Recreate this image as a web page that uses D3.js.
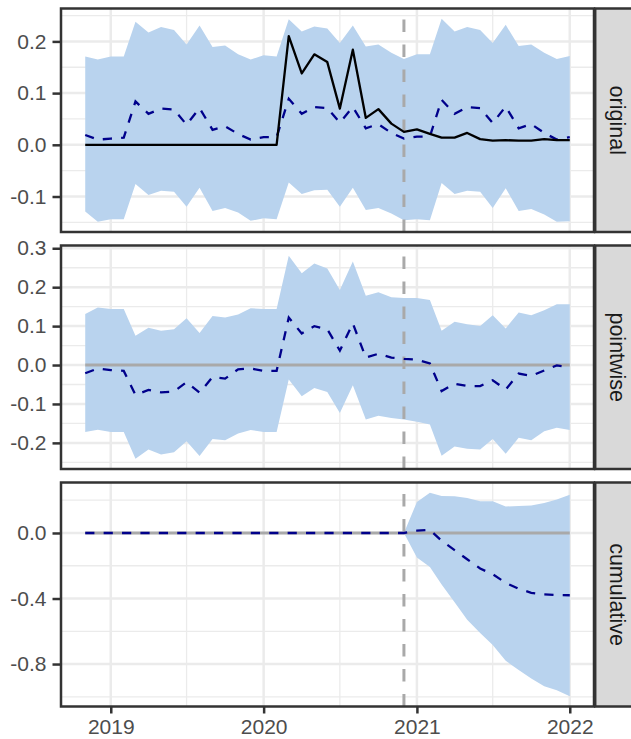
<!DOCTYPE html>
<html><head><meta charset="utf-8">
<script src="https://cdn.jsdelivr.net/npm/d3@7"></script>
<style>body{margin:0;background:#fff} svg{display:block}</style>
</head><body>
<script>
// ---------------- DATA ----------------
const months = ["2018-11","2018-12",
 "2019-01","2019-02","2019-03","2019-04","2019-05","2019-06","2019-07","2019-08","2019-09","2019-10","2019-11","2019-12",
 "2020-01","2020-02","2020-03","2020-04","2020-05","2020-06","2020-07","2020-08","2020-09","2020-10","2020-11","2020-12",
 "2021-01","2021-02","2021-03","2021-04","2021-05","2021-06","2021-07","2021-08","2021-09","2021-10","2021-11","2021-12",
 "2022-01"];

const observed = [0,0,0,0,0,0,0,0,0,0,0,0,0,0,0,0,
 0.210,0.138,0.175,0.160,0.070,0.184,0.052,0.069,0.041,0.025,0.030,0.021,0.014,0.014,0.023,0.011,0.008,0.009,0.008,0.008,0.011,0.009,0.009];

const predMean = [0.019,0.010,0.012,0.014,0.084,0.060,0.070,0.068,0.039,0.071,0.029,0.036,0.021,0.010,0.015,0.015,
 0.089,0.060,0.073,0.071,0.043,0.073,0.032,0.040,0.023,0.012,0.016,0.016,0.087,0.060,0.073,0.071,0.042,0.074,0.032,0.040,0.023,0.010,0.015];
const predUpper = [0.171,0.165,0.171,0.171,0.238,0.217,0.228,0.222,0.194,0.231,0.189,0.192,0.175,0.165,0.173,0.171,
 0.243,0.219,0.229,0.225,0.197,0.231,0.190,0.194,0.178,0.166,0.175,0.175,0.244,0.219,0.228,0.222,0.197,0.232,0.191,0.194,0.178,0.166,0.172];
const predLower = [-0.129,-0.149,-0.144,-0.144,-0.076,-0.097,-0.089,-0.091,-0.120,-0.083,-0.128,-0.122,-0.131,-0.147,-0.142,-0.144,
 -0.073,-0.095,-0.088,-0.087,-0.120,-0.083,-0.126,-0.122,-0.133,-0.146,-0.144,-0.146,-0.074,-0.095,-0.089,-0.091,-0.122,-0.084,-0.128,-0.124,-0.135,-0.149,-0.148];

const pointMean = [-0.021,-0.009,-0.013,-0.015,-0.077,-0.064,-0.070,-0.068,-0.044,-0.071,-0.031,-0.035,-0.011,-0.009,-0.015,-0.015,
 0.122,0.081,0.100,0.092,0.037,0.107,0.019,0.029,0.019,0.016,0.014,0.004,-0.067,-0.048,-0.054,-0.054,-0.039,-0.063,-0.022,-0.028,-0.014,-0.001,-0.006];
const pointUpper = [0.131,0.148,0.144,0.144,0.075,0.096,0.088,0.092,0.120,0.082,0.126,0.122,0.130,0.146,0.144,0.144,
 0.281,0.236,0.261,0.248,0.193,0.266,0.178,0.187,0.174,0.172,0.172,0.167,0.088,0.111,0.105,0.100,0.128,0.094,0.135,0.128,0.141,0.156,0.156];
const pointLower = [-0.172,-0.166,-0.172,-0.172,-0.241,-0.217,-0.230,-0.224,-0.196,-0.234,-0.190,-0.193,-0.176,-0.167,-0.172,-0.172,
 -0.037,-0.080,-0.059,-0.069,-0.123,-0.052,-0.140,-0.130,-0.136,-0.140,-0.146,-0.153,-0.233,-0.209,-0.215,-0.217,-0.190,-0.228,-0.187,-0.193,-0.170,-0.161,-0.167];

const cumMean = [0,0,0,0,0,0,0,0,0,0,0,0,0,0,0,0,0,0,0,0,0,0,0,0,0,0,
 0.014,0.019,-0.047,-0.105,-0.160,-0.217,-0.252,-0.304,-0.341,-0.365,-0.375,-0.379,-0.380];
const cumUpper = [0,0,0,0,0,0,0,0,0,0,0,0,0,0,0,0,0,0,0,0,0,0,0,0,0,0,
 0.189,0.246,0.226,0.224,0.213,0.193,0.193,0.162,0.164,0.168,0.183,0.205,0.234];
const cumLower = [0,0,0,0,0,0,0,0,0,0,0,0,0,0,0,0,0,0,0,0,0,0,0,0,0,0,
 -0.150,-0.207,-0.314,-0.423,-0.529,-0.611,-0.683,-0.780,-0.837,-0.888,-0.935,-0.960,-0.997];

const interventionMonth = "2020-12";
const panelNames = ["original","pointwise","cumulative"];
const yTicksOriginal = [-0.1,0.0,0.1,0.2];
const yTicksPointwise = [-0.2,-0.1,0.0,0.1,0.2,0.3];
const yTicksCumulative = [-0.8,-0.4,0.0];
const xTickYears = ["2019","2020","2021","2022"];
const xMinorDates = ["2019-07","2020-07","2021-07"];

// ---------------- LAYOUT ----------------
const W = 631, H = 739;
const xL = 61, xR = 594;
const geo = [{top:8.5,bottom:232},{top:245.5,bottom:469},{top:482.5,bottom:706.5}];
const stripW = 42;
const FONT = "'Liberation Sans', Arial, Helvetica, sans-serif";
const FILL = "#B9D3EE";

const parseM = d3.timeParse("%Y-%m");
const dates = months.map(parseM);

const svg = d3.select("body").append("svg").attr("width", W).attr("height", H);

const ext = d3.extent(dates);
const span = ext[1] - ext[0];
const x = d3.scaleTime()
  .domain([new Date(+ext[0] - span*0.05), new Date(+ext[1] + span*0.05)])
  .range([xL, xR]);

const panels = [
  {name: panelNames[0], mean: predMean, lo: predLower, hi: predUpper, resp: observed, base: false, ticks: yTicksOriginal},
  {name: panelNames[1], mean: pointMean, lo: pointLower, hi: pointUpper, resp: null, base: true, ticks: yTicksPointwise},
  {name: panelNames[2], mean: cumMean, lo: cumLower, hi: cumUpper, resp: null, base: true, ticks: yTicksCumulative}
];

const fmt = v => (Math.abs(v) < 1e-9 ? 0 : v).toFixed(1);

panels.forEach((p, k) => {
  const g = geo[k];
  const allVals = p.lo.concat(p.hi, p.mean, p.resp || []);
  const mn = d3.min(allVals), mx = d3.max(allVals), r = mx - mn;
  const y = d3.scaleLinear().domain([mn - 0.05*r, mx + 0.05*r]).range([g.bottom, g.top]);
  const dom = y.domain();

  const gp = svg.append("g");
  gp.append("rect").attr("x", xL).attr("y", g.top).attr("width", xR - xL).attr("height", g.bottom - g.top).attr("fill", "#fff");

  // minor grid (y): midpoints between majors
  const step = p.ticks[1] - p.ticks[0];
  const minors = [];
  for (let i = -1; i < p.ticks.length; i++) {
    const v = p.ticks[0] + (i + 0.5) * step;
    if (v > dom[0] && v < dom[1]) minors.push(v);
  }
  gp.selectAll(".ymin").data(minors).join("line")
    .attr("x1", xL).attr("x2", xR).attr("y1", d => y(d)).attr("y2", d => y(d))
    .attr("stroke", "#EBEBEB").attr("stroke-width", 1.3);
  gp.selectAll(".xmin").data(xMinorDates.map(parseM)).join("line")
    .attr("x1", d => x(d)).attr("x2", d => x(d)).attr("y1", g.top).attr("y2", g.bottom)
    .attr("stroke", "#EBEBEB").attr("stroke-width", 1.3);
  gp.selectAll(".ymaj").data(p.ticks).join("line")
    .attr("x1", xL).attr("x2", xR).attr("y1", d => y(d)).attr("y2", d => y(d))
    .attr("stroke", "#EBEBEB").attr("stroke-width", 2.5);
  gp.selectAll(".xmaj").data(xTickYears.map(d3.timeParse("%Y"))).join("line")
    .attr("x1", d => x(d)).attr("x2", d => x(d)).attr("y1", g.top).attr("y2", g.bottom)
    .attr("stroke", "#EBEBEB").attr("stroke-width", 2.5);

  const rows = dates.map((d, i) => ({date: d, mean: p.mean[i], lo: p.lo[i], hi: p.hi[i], resp: p.resp ? p.resp[i] : null}));

  gp.append("path").datum(rows)
    .attr("d", d3.area().x(d => x(d.date)).y0(d => y(d.lo)).y1(d => y(d.hi)))
    .attr("fill", FILL);

  if (p.base) {
    gp.append("line").attr("x1", x(dates[0])).attr("x2", x(dates[dates.length-1]))
      .attr("y1", y(0)).attr("y2", y(0))
      .attr("stroke", "#A9A9A9").attr("stroke-width", 3);
  }
  const vx = x(parseM(interventionMonth));
  gp.append("line").attr("x1", vx).attr("x2", vx).attr("y1", g.bottom).attr("y2", g.top)
    .attr("stroke", "#A9A9A9").attr("stroke-width", 3).attr("stroke-dasharray", "12.5,12.5");

  gp.append("path").datum(rows)
    .attr("d", d3.line().x(d => x(d.date)).y(d => y(d.mean)))
    .attr("fill", "none").attr("stroke", "#00008B").attr("stroke-width", 2.3)
    .attr("stroke-dasharray", "9.2,9.2");

  if (p.resp) {
    gp.append("path").datum(rows)
      .attr("d", d3.line().x(d => x(d.date)).y(d => y(d.resp)))
      .attr("fill", "none").attr("stroke", "#000").attr("stroke-width", 2.3)
      .attr("stroke-linejoin", "round");
  }

  const ax = svg.append("g").attr("transform", `translate(${xL},0)`)
    .call(d3.axisLeft(y).tickValues(p.ticks).tickFormat(fmt).tickSize(8.5).tickPadding(6));
  ax.select(".domain").remove();
  ax.selectAll(".tick line").attr("stroke", "#333").attr("stroke-width", 2.5);
  ax.selectAll(".tick text").attr("fill", "#4D4D4D").style("font-family", FONT).style("font-size", "21px");

  svg.append("rect").attr("x", xL).attr("y", g.top).attr("width", xR - xL).attr("height", g.bottom - g.top)
    .attr("fill", "none").attr("stroke", "#333").attr("stroke-width", 2.5);

  svg.append("rect").attr("x", xR + 1.2).attr("y", g.top).attr("width", stripW).attr("height", g.bottom - g.top)
    .attr("fill", "#D9D9D9").attr("stroke", "#333").attr("stroke-width", 2.5);
  svg.append("text")
    .attr("transform", `translate(609.5,${(g.top + g.bottom)/2}) rotate(90)`)
    .attr("text-anchor", "middle")
    .attr("fill", "#1A1A1A").style("font-family", FONT).style("font-size", "21.5px")
    .text(p.name);
});

const xa = svg.append("g").attr("transform", `translate(0,${geo[2].bottom})`)
  .call(d3.axisBottom(x).tickValues(xTickYears.map(d3.timeParse("%Y"))).tickFormat(d3.timeFormat("%Y")).tickSize(7).tickPadding(6));
xa.select(".domain").remove();
xa.selectAll(".tick line").attr("stroke", "#333").attr("stroke-width", 2.5);
xa.selectAll(".tick text").attr("fill", "#4D4D4D").style("font-family", FONT).style("font-size", "21px");
</script>
</body></html>
